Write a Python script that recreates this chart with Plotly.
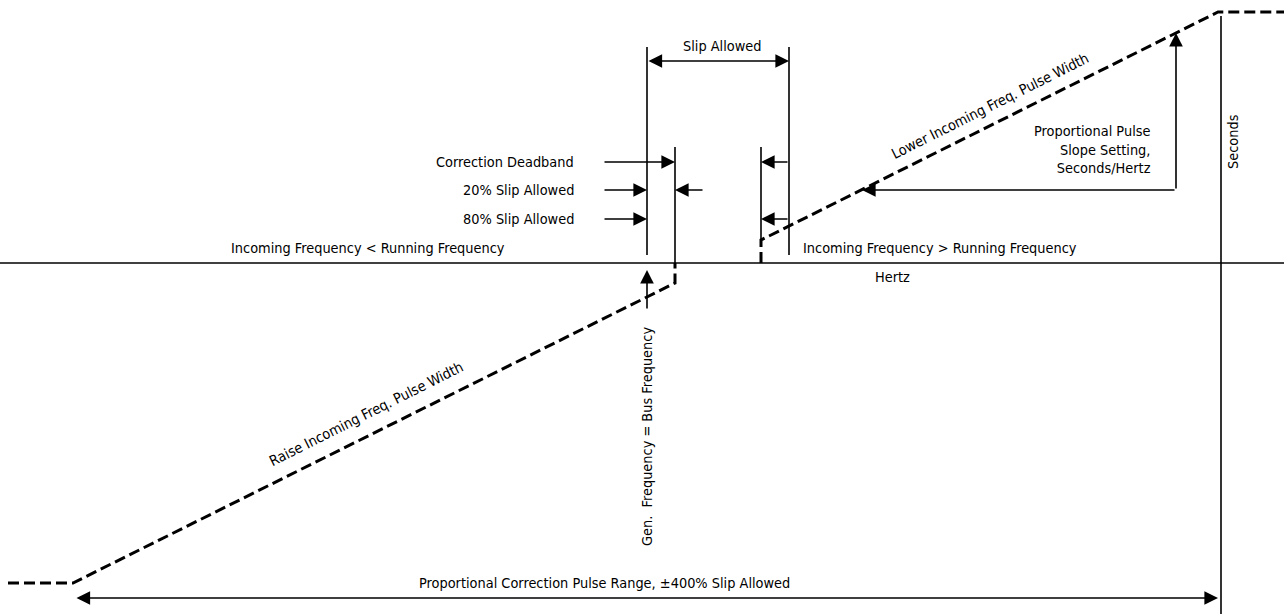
import plotly.graph_objects as go

W, H = 1284, 614
FONT = "DejaVu Sans Condensed, Liberation Sans Narrow, Arial Narrow, sans-serif"
FS = 14.4

# Dashed pulse-width characteristic (pixel-space diagram units)
raise_x = [8, 73, 675, 675]
raise_y = [583, 583, 283, 263]
lower_x = [761, 761, 1218, 1284]
lower_y = [263, 240, 12, 12]

# Axes of the diagram
hertz_axis_y = 263
seconds_axis_x = 1221

# Solid vertical marker lines: (x, y_top, y_bottom)
vlines_x = [647, 789, 675, 761]
vlines_top = [47, 47, 147, 147]
vlines_bot = [255, 255, 263, 240]

# Arrows: (tail_x, tail_y, head_x, head_y, both_ends)
arrow_tail_x = [647, 603, 789, 603, 704, 603, 789, 1176, 1176, 647, 75]
arrow_tail_y = [61, 162, 162, 190, 190, 219, 219, 190, 190, 310, 598]
arrow_head_x = [789, 675, 761, 647, 675, 647, 761, 1176, 862, 647, 1218]
arrow_head_y = [61, 162, 162, 190, 190, 219, 219, 33, 190, 270, 598]
arrow_both = [True, False, False, False, False, False, False, False, False, False, True]

# Labels
label_text = ["Slip Allowed", "Correction Deadband", "20% Slip Allowed", "80% Slip Allowed",
              "Incoming Frequency < Running Frequency", "Incoming Frequency > Running Frequency",
              "Hertz", "Proportional Pulse<br>Slope Setting,<br>Seconds/Hertz",
              "Proportional Correction Pulse Range, ±400% Slip Allowed"]
label_x = [722, 576, 576, 576, 368, 940, 892, 1153, 604]
label_y = [46, 162, 190, 219, 248, 248, 277, 149, 583]
label_anchor = ["center", "right", "right", "right", "center", "center", "center", "right", "center"]

rot_text = ["Lower Incoming Freq. Pulse Width", "Raise Incoming Freq. Pulse Width",
            "Seconds", "Gen.  Frequency = Bus Frequency"]
rot_x = [990, 366, 1233, 647]
rot_y = [106, 414, 142, 437]
rot_angle = [-26.6, -26.6, -90, -90]

fig = go.Figure()

fig.add_trace(go.Scatter(x=raise_x, y=raise_y, mode="lines",
                         line=dict(color="black", width=3, dash="11px,5px"),
                         hoverinfo="skip", showlegend=False))
fig.add_trace(go.Scatter(x=lower_x, y=lower_y, mode="lines",
                         line=dict(color="black", width=3, dash="11px,5px"),
                         hoverinfo="skip", showlegend=False))

fig.add_shape(type="line", x0=0, x1=W, y0=hertz_axis_y, y1=hertz_axis_y,
              line=dict(color="black", width=1.6))
fig.add_shape(type="line", x0=seconds_axis_x, x1=seconds_axis_x, y0=16, y1=H,
              line=dict(color="black", width=1.6))

for x, t, b in zip(vlines_x, vlines_top, vlines_bot):
    fig.add_shape(type="line", x0=x, x1=x, y0=t, y1=b, line=dict(color="black", width=1.6))

for tx, ty, hx, hy, both in zip(arrow_tail_x, arrow_tail_y, arrow_head_x, arrow_head_y, arrow_both):
    fig.add_annotation(x=hx, y=hy, ax=tx, ay=ty, xref="x", yref="y", axref="x", ayref="y",
                       text="", showarrow=True, arrowhead=2, arrowsize=1.7, arrowwidth=1.6,
                       arrowcolor="black", arrowside="end+start" if both else "end",
                       startarrowhead=2, startarrowsize=1.7)

for t, x, y, a in zip(label_text, label_x, label_y, label_anchor):
    fig.add_annotation(x=x, y=y, text=t, showarrow=False, xanchor=a, yanchor="middle",
                       align=a,
                       font=dict(family=FONT, size=FS, color="black"))

for t, x, y, ang in zip(rot_text, rot_x, rot_y, rot_angle):
    fig.add_annotation(x=x, y=y, text=t, showarrow=False, textangle=ang,
                       xanchor="center", yanchor="middle",
                       font=dict(family=FONT, size=FS, color="black"))

fig.update_xaxes(range=[0, W], visible=False, fixedrange=True)
fig.update_yaxes(range=[H, 0], visible=False, fixedrange=True)
fig.update_layout(width=W, height=H, margin=dict(l=0, r=0, t=0, b=0),
                  plot_bgcolor="white", paper_bgcolor="white", showlegend=False)

fig.write_html("out.html", config={"displayModeBar": False},
               post_script="document.body.style.margin='0';document.body.style.overflow='hidden';")
